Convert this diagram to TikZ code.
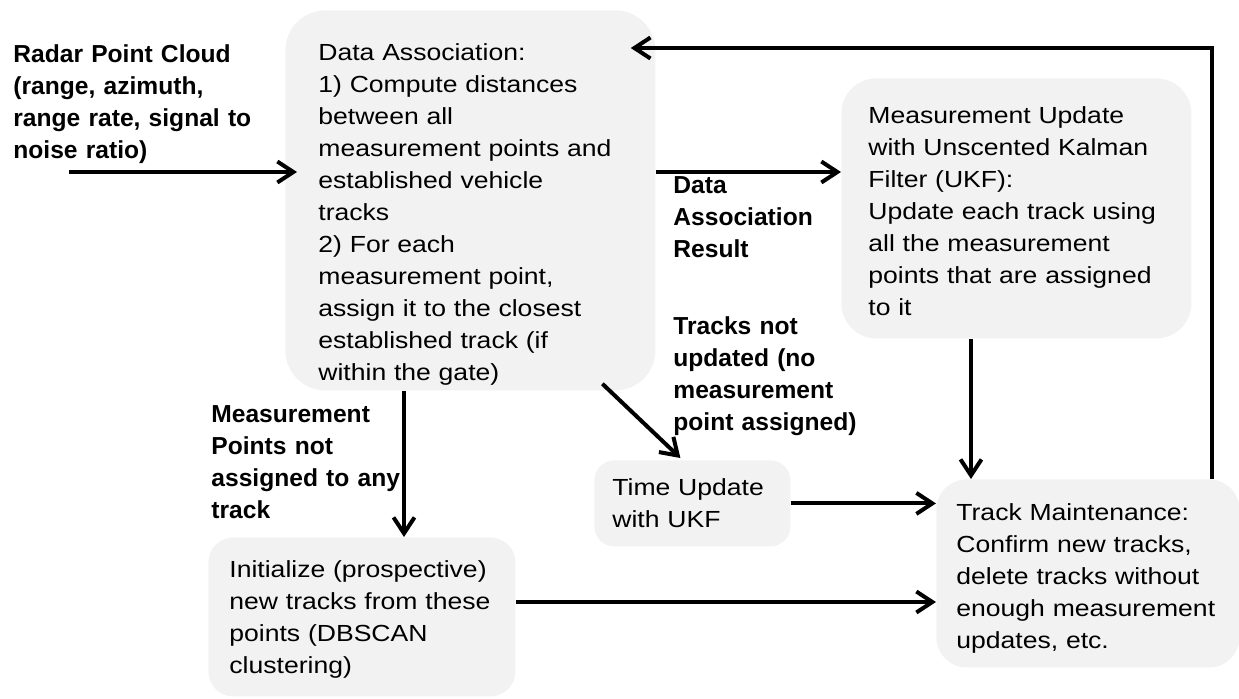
\documentclass[tikz,border=0pt]{standalone}
\usepackage{fontspec}
\setmainfont{Liberation Sans}[FakeStretch=1.14]
\newfontfamily\lblfont{Liberation Sans}
\usepackage{tikz}
\usetikzlibrary{calc,arrows.meta}
\definecolor{boxgray}{HTML}{F2F2F2}

\begin{document}
\begin{tikzpicture}[x=0.5pt,y=-0.5pt,
        blk/.style={fill=boxgray,inner ysep=0pt,align=left,anchor=north west,
            font=\fontsize{11.65}{16}\selectfont},
        lbl/.style={anchor=base west,align=left,inner sep=0pt,text width=130pt,
            font=\lblfont\bfseries\fontsize{12.3}{16}\selectfont},
        flow/.style={line width=2pt,-{Straight Barb[length=8pt,width=10.5pt]}}]
    \useasboundingbox (0,0) rectangle (1239,698);
    % Blocks
    \node[blk,rounded corners=20pt,inner xsep=16.5pt,text width=152pt,
        text height=25pt,text depth=165pt] (da) at (285,10)
        {Data Association:\\1) Compute distances\\between all\\measurement points and\\established vehicle\\tracks\\2) For each\\measurement point,\\assign it to the closest\\established track (if\\within the gate)};
    \node[blk,rounded corners=17.5pt,inner xsep=13.5pt,text width=148pt,
        text height=22.5pt,text depth=107.5pt] (mu) at (841,78)
        {Measurement Update\\with Unscented Kalman\\Filter (UKF):\\Update each track using\\all the measurement\\points that are assigned\\to it};
    \node[blk,rounded corners=10pt,inner xsep=9pt,text width=80pt,
        text height=17.5pt,text depth=25.5pt] (tu) at (594,460)
        {Time Update\\with UKF};
    \node[blk,rounded corners=12.5pt,inner xsep=10.5pt,text width=132.5pt,
        text height=20pt,text depth=59.5pt] (init) at (208,537)
        {Initialize (prospective)\\new tracks from these\\points (DBSCAN\\clustering)};
    \node[blk,rounded corners=15pt,inner xsep=10pt,text width=131.5pt,
        text height=20.5pt,text depth=73.5pt] (tm) at (936,479)
        {Track Maintenance:\\Confirm new tracks,\\delete tracks without\\enough measurement\\updates, etc.};
    % Labels
    \node[lbl] (radar) at (13,62) {Radar Point Cloud\\(range, azimuth,\\range rate, signal to\\noise ratio)};
    \node[lbl] (result) at (673,193) {Data\\Association\\Result};
    \node[lbl] (notupd) at (673,334) {Tracks not\\updated (no\\measurement\\point assigned)};
    \node[lbl] (notasg) at (211,422) {Measurement\\Points not\\assigned to any\\track};
    % Connectors
    \coordinate (src) at (69,172);
    \draw[flow] (src) -- ($(src -| da.west)+(12,0)$);
    \draw[flow] (src -| da.east) -- (src -| mu.west);
    \coordinate (fb) at (1212,48);
    \draw[flow] (fb |- tm.north) -- (fb) -- ($(fb -| da.east)+(-25,0)$);
    \coordinate (mt) at (971,0);
    \draw[flow] (mt |- mu.south) -- (mt |- tm.north);
    \coordinate (di) at (404,0);
    \draw[flow] (di |- da.south) -- (di |- init.north);
    \draw[flow] ($(da.south)+(132,-7)$) -- ($(tu.north)+(-12,-2)$);
    \draw[flow] (tu.east) -- (tu.east -| tm.west);
    \coordinate (it) at (0,602);
    \draw[flow] (it -| init.east) -- (it -| tm.west);
\end{tikzpicture}
\end{document}
